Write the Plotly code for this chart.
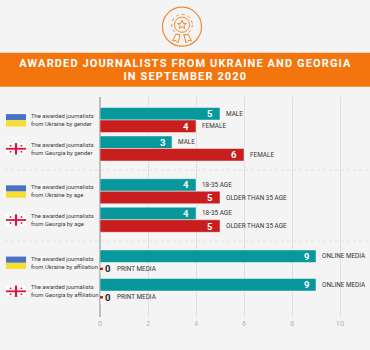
import math
import plotly.graph_objects as go

# ---- data ----
row_labels = ["from Ukraine by gender", "from Georgia by gender",
              "from Ukraine by age", "from Georgia by age",
              "from Ukraine by affiliation", "from Georgia by affiliation"]
row_countries = ["ukraine", "georgia", "ukraine", "georgia", "ukraine", "georgia"]
first_values = [5, 3, 4, 4, 9, 9]
second_values = [4, 6, 5, 5, 0, 0]
first_names = ["MALE", "MALE", "18-35 AGE", "18-35 AGE", "ONLINE MEDIA", "ONLINE MEDIA"]
second_names = ["FEMALE", "FEMALE", "OLDER THAN 35 AGE", "OLDER THAN 35 AGE", "PRINT MEDIA", "PRINT MEDIA"]
x_ticks = [0, 2, 4, 6, 8, 10]
title_lines = ["AWARDED JOURNALISTS FROM UKRAINE AND GEORGIA", "IN SEPTEMBER 2020"]

# ---- style ----
W, H = 370, 350
L, R, T, B = 100, 0, 97, 33
BG = "#f4f4f4"
TEAL = "#08979b"
RED = "#c81e1e"
ORANGE = "#f2760d"
FONT = "Roboto"
BAR_OFFSET = 0.22

# rows are in pairs, with half a row of extra space between the pairs
y_pos = [i + 0.5 * (i // 2) for i in range(len(row_labels))]


def px(x):
    return (x - L) / (W - L - R)


def py(y):
    return 1 - (y - T) / (H - T - B)


def rect(x0, y0, x1, y1, fill, line=None, lw=0):
    return dict(type="rect", xref="paper", yref="paper", x0=px(x0), x1=px(x1), y0=py(y0), y1=py(y1),
                fillcolor=fill, line=dict(color=line or fill, width=lw), layer="above")


def line(x0, y0, x1, y1, color, lw=1.0, dash="solid"):
    return dict(type="line", xref="paper", yref="paper", x0=px(x0), x1=px(x1), y0=py(y0), y1=py(y1),
                line=dict(color=color, width=lw, dash=dash), layer="above")


def circle(cx, cy, r, color, lw=1.0, dash="solid"):
    return dict(type="circle", xref="paper", yref="paper", x0=px(cx - r), x1=px(cx + r), y0=py(cy - r), y1=py(cy + r),
                fillcolor="rgba(0,0,0,0)", line=dict(color=color, width=lw, dash=dash), layer="above")


def path(points, color, lw=1.0):
    d = "M" + " L".join(f"{px(a):.5f},{py(b):.5f}" for a, b in points) + " Z"
    return dict(type="path", xref="paper", yref="paper", path=d, fillcolor="rgba(0,0,0,0)",
                line=dict(color=color, width=lw), layer="above")


fig = go.Figure()
edge = dict(color="rgba(255,255,255,0.45)", width=1)
fig.add_bar(y=y_pos, x=first_values, orientation="h", marker=dict(color=TEAL, line=edge), hoverinfo="skip")
fig.add_bar(y=y_pos, x=second_values, orientation="h", marker=dict(color=RED, line=edge), hoverinfo="skip")

shapes, ann = [], []

# banner
shapes.append(rect(0, 52.7, 370, 86.7, ORANGE))
for i, t in enumerate(title_lines):
    ann.append(dict(xref="paper", yref="paper", x=px(185), y=py(63.2 + 13.4 * i), text=f"<b>{t}</b>", showarrow=False,
                    xanchor="center", yanchor="middle", font=dict(family=FONT, size=11, color="white")))

# medal icon
IC = "#f08a35"
shapes.append(circle(182, 26.7, 19.5, IC, 1.2))
shapes.append(circle(182, 24.7, 10.3, IC, 1.0, "dot"))
shapes.append(circle(182, 24.7, 7.6, IC, 1.0))
star = []
for k in range(10):
    r = 4.6 if k % 2 == 0 else 2.0
    a = -math.pi / 2 + k * math.pi / 5
    star.append((182 + r * math.cos(a), 24.9 + r * math.sin(a)))
shapes.append(path(star, IC, 1.0))
shapes.append(path([(176, 34), (172.5, 41), (176, 40.5), (178, 43), (180, 35.5)], IC, 1.0))
shapes.append(path([(188, 34), (191.5, 41), (188, 40.5), (186, 43), (184, 35.5)], IC, 1.0))

# separators
for y in (170, 241):
    shapes.append(line(5, y, 370, y, "#dedede", 0.7, "dot"))

for i, yp in enumerate(y_pos):
    # flag
    cy = 120.3 + 28.5 * yp
    if row_countries[i] == "ukraine":
        shapes.append(rect(6, cy - 6.2, 26, cy, "#4a72c4"))
        shapes.append(rect(6, cy, 26, cy + 6.2, "#f6de32"))
    else:
        shapes.append(rect(6, cy - 5.7, 26, cy + 5.7, "#ffffff"))
        shapes.append(rect(6, cy - 0.9, 26, cy + 0.9, "#e0103f"))
        shapes.append(rect(14.9, cy - 5.7, 17.1, cy + 5.7, "#e0103f"))
        for dx, dy in ((10.5, -3), (21.5, -3), (10.5, 3), (21.5, 3)):
            shapes.append(rect(dx - 0.8, cy + dy - 0.8, dx + 0.8, cy + dy + 0.8, "#e0103f"))
    # row caption
    ann.append(dict(xref="paper", yref="paper", x=px(29), y=py(cy - 0.3),
                    text=f"The awarded journalists<br>{row_labels[i]}", showarrow=False, align="left",
                    xanchor="left", yanchor="middle", font=dict(family=FONT, size=5.9, color="#3a3a3a", weight=400)))
    # value labels and names
    for v, name, off in ((first_values[i], first_names[i], -BAR_OFFSET), (second_values[i], second_names[i], BAR_OFFSET)):
        yy = yp + off
        if v > 0:
            ann.append(dict(x=v, y=yy, text=f"<b>{v}</b>", showarrow=False, xanchor="right", xshift=-5,
                            font=dict(family=FONT, size=9.5, color="white")))
            ann.append(dict(x=v, y=yy, text=name, showarrow=False, xanchor="left", xshift=4,
                            font=dict(family=FONT, size=6.4, color="#333333", weight=400)))
        else:
            shapes.append(dict(type="rect", xref="x", yref="y", xsizemode="pixel", xanchor=v, x0=0, x1=3,
                               ysizemode="pixel", yanchor=yy, y0=-1.2, y1=1.2, fillcolor=RED, line=dict(width=0), layer="above"))
            ann.append(dict(x=v, y=yy, text=f"<b>{v}</b>", showarrow=False, xanchor="left", xshift=3,
                            font=dict(family=FONT, size=9.5, color="#222222")))
            ann.append(dict(x=v, y=yy, text=name, showarrow=False, xanchor="left", xshift=14.5,
                            font=dict(family=FONT, size=6.4, color="#333333", weight=400)))

fig.update_layout(
    width=W, height=H, margin=dict(l=L, r=R, t=T, b=B, pad=0, autoexpand=False),
    paper_bgcolor=BG, plot_bgcolor=BG, showlegend=False, barmode="group", bargap=0.12, bargroupgap=0,
    shapes=shapes, annotations=ann, hovermode=False,
    xaxis=dict(range=[0, (W - L - R) / 24.0], tickmode="array", tickvals=x_ticks, showgrid=True, gridcolor="#e0e0e0", gridwidth=1,
               zeroline=True, zerolinecolor="#bdbdbd", zerolinewidth=1.5, showline=False, ticks="", ticklen=0,
               tickfont=dict(family=FONT, size=7.5, color="#b5b5b5")),
    yaxis=dict(range=[6.912, -0.807], showticklabels=False, showgrid=False, zeroline=False, showline=False, ticks=""),
)

# the page margin goes, and the banner text gets its wide letter spacing
post = """
document.body.style.margin = '0';
document.querySelectorAll('.annotation-text').forEach(function (t) {
  if (t.textContent.indexOf('AWARDED') === 0 || t.textContent.indexOf('IN SEPTEMBER') === 0) {
    t.style.letterSpacing = '1.12px';
  }
});
"""
fig.write_html("out.html", config={"displayModeBar": False}, post_script=post)
